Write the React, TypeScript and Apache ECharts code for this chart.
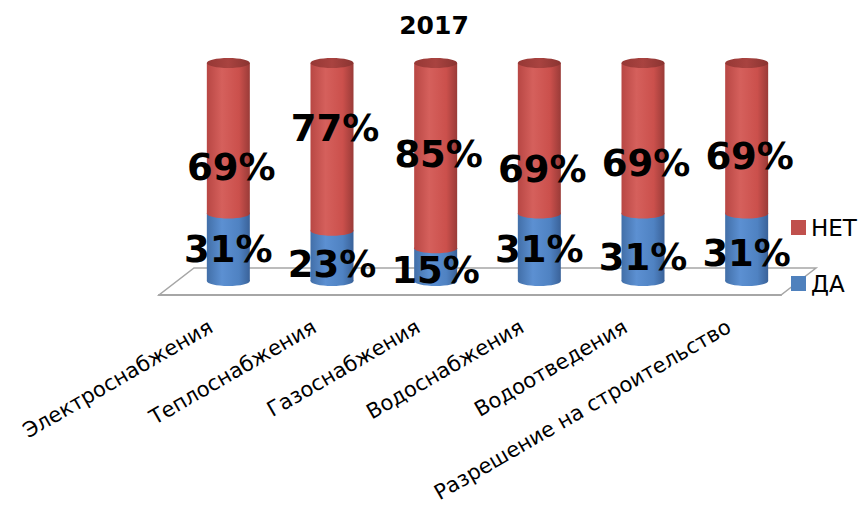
import React, { useEffect, useRef } from "react";
import * as echarts from "echarts";

const title = "2017";
const categories = [
  "Электроснабжения",
  "Теплоснабжения",
  "Газоснабжения",
  "Водоснабжения",
  "Водоотведения",
  "Разрешение на строительство",
];
const daValues = [31, 23, 15, 31, 31, 31];
const netValues = [69, 77, 85, 69, 69, 69];
const seriesNames = ["НЕТ", "ДА"];

// layout: where each data label sits (value units on the bar's scale)
const netLabelAt = [52, 70, 58, 51, 54, 57];
const daLabelAt = [14.5, 7.5, 5, 14.5, 11, 12.5];

// floor / plot geometry
const FRONT_LEFT = 159;
const PLOT_W = 622;
const FRONT_Y = 295;
const DEPTH_X = 35;
const DEPTH_Y = 27;
const BAR_TOP = 63;

const W = 868;
const H = 506;

const redGrad = () =>
  new echarts.graphic.LinearGradient(0, 0, 1, 0, [
    { offset: 0, color: "#B84744" },
    { offset: 0.35, color: "#D5605C" },
    { offset: 0.75, color: "#CB504C" },
    { offset: 1, color: "#9A3B38" },
  ]);
const blueGrad = () =>
  new echarts.graphic.LinearGradient(0, 0, 1, 0, [
    { offset: 0, color: "#426FA8" },
    { offset: 0.35, color: "#5C90D2" },
    { offset: 0.75, color: "#4F82C2" },
    { offset: 1, color: "#3A6299" },
  ]);
const redCap = () =>
  new echarts.graphic.LinearGradient(0, 0, 1, 0, [
    { offset: 0, color: "#963835" },
    { offset: 0.5, color: "#A94340" },
    { offset: 1, color: "#8A3431" },
  ]);

function makeRender(isTop: boolean, labelAt: number[], labelDx: number) {
  return (params: any, api: any) => {
    const i = api.value(0);
    const base = api.value(1);
    const val = api.value(2);
    const pB = api.coord([i, base]);
    const pT = api.coord([i, base + val]);
    const cx = pB[0];
    const yb = pB[1];
    const yt = pT[1];
    const r = 21.5;
    const ry = 5;
    const fill = isTop ? redGrad() : blueGrad();
    const children: any[] = [
      { type: "ellipse", shape: { cx, cy: yb, rx: r, ry }, style: { fill } },
      { type: "rect", shape: { x: cx - r, y: yt, width: 2 * r, height: yb - yt }, style: { fill } },
    ];
    if (isTop) {
      children.push({ type: "ellipse", shape: { cx, cy: yt, rx: r, ry }, style: { fill: redCap() } });
    }
    const ly = api.coord([i, labelAt[i]])[1];
    children.push({
      type: "text",
      z2: 100,
      style: {
        x: cx + labelDx,
        y: ly,
        text: val + "%",
        fill: "#000",
        font: 'bold 37px "DejaVu Sans"',
        align: "center",
        verticalAlign: "middle",
      },
    });
    return { type: "group", children };
  };
}

export default function App() {
  const ref = useRef<HTMLDivElement>(null);
  useEffect(() => {
    if (!ref.current) return;
    const chart = echarts.init(ref.current, null, { renderer: "svg" });
    const halfX = DEPTH_X / 2;
    const halfY = DEPTH_Y / 2;
    const floor = [
      [FRONT_LEFT, FRONT_Y],
      [FRONT_LEFT + PLOT_W, FRONT_Y],
      [FRONT_LEFT + PLOT_W + DEPTH_X, FRONT_Y - DEPTH_Y],
      [FRONT_LEFT + DEPTH_X, FRONT_Y - DEPTH_Y],
    ];
    chart.setOption({
      animation: false,
      backgroundColor: "#fff",
      title: {
        text: title,
        left: "center",
        top: 8,
        textStyle: { fontFamily: "DejaVu Sans", fontWeight: "bold", fontSize: 25, color: "#000" },
      },
      legend: {
        orient: "vertical",
        left: 786,
        top: 211,
        itemWidth: 15,
        itemHeight: 15,
        itemGap: 33,
        icon: "rect",
        data: seriesNames,
        textStyle: { fontFamily: "DejaVu Sans", fontSize: 23, color: "#000", lineHeight: 15 },
        z: 50,
      },
      graphic: [
        {
          type: "polygon",
          z: 0,
          shape: { points: floor },
          style: { fill: "#fff", stroke: "#A6A6A6", lineWidth: 1.5 },
        },
      ],
      grid: [
        {
          left: FRONT_LEFT,
          width: PLOT_W,
          top: BAR_TOP + halfY,
          height: FRONT_Y - BAR_TOP - halfY,
        },
        {
          left: FRONT_LEFT + halfX,
          width: PLOT_W,
          top: BAR_TOP,
          height: FRONT_Y - halfY - BAR_TOP - 0.5,
        },
      ],
      xAxis: [
        {
          type: "category",
          gridIndex: 0,
          data: categories,
          axisLine: { lineStyle: { color: "#A6A6A6", width: 2 } },
          axisTick: { length: 7, lineStyle: { color: "#A6A6A6", width: 1.5 } },
          axisLabel: {
            rotate: 30,
            margin: 30,
            interval: 0,
            color: "#000",
            fontFamily: "DejaVu Sans",
            fontSize: 21,
          },
          z: 3,
        },
        { type: "category", gridIndex: 1, data: categories, show: false },
      ],
      yAxis: [
        { type: "value", gridIndex: 0, min: 0, max: 100, show: false },
        { type: "value", gridIndex: 1, min: 0, max: 100, show: false },
      ],
      series: [
        {
          name: "ДА",
          type: "custom",
          xAxisIndex: 1,
          yAxisIndex: 1,
          itemStyle: { color: "#4F81BD" },
          encode: { x: 0, y: 2 },
          renderItem: makeRender(false, daLabelAt, 0),
          data: categories.map((_, i) => [i, 0, daValues[i]]),
        },
        {
          name: "НЕТ",
          type: "custom",
          xAxisIndex: 1,
          yAxisIndex: 1,
          itemStyle: { color: "#C0504D" },
          encode: { x: 0, y: 2 },
          renderItem: makeRender(true, netLabelAt, 3),
          data: categories.map((_, i) => [i, daValues[i], netValues[i]]),
        },
      ],
    });
    return () => chart.dispose();
  }, []);
  return (
    <div
      ref={ref}
      style={{ position: "fixed", left: 0, top: 0, width: W, height: H, background: "#fff" }}
    />
  );
}
